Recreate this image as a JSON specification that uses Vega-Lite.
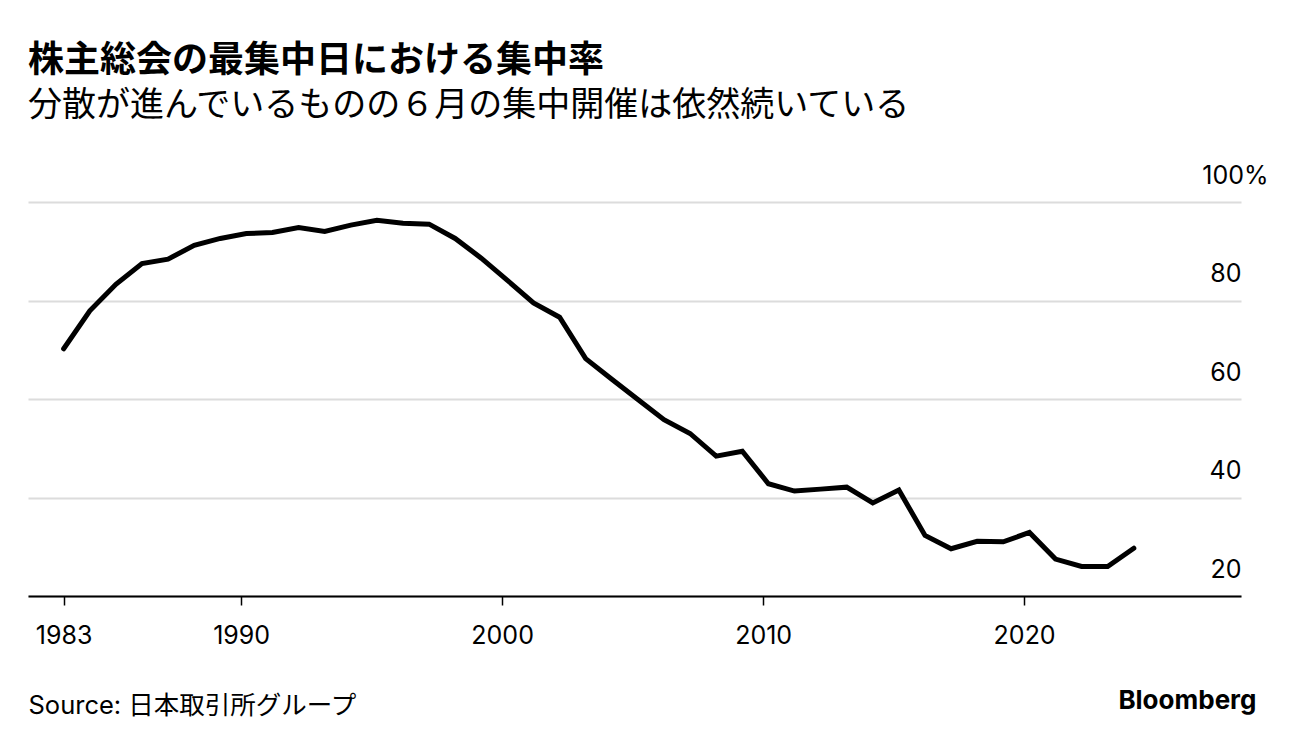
{
  "$schema": "https://vega.github.io/schema/vega-lite/v6.json",
  "width": 1213,
  "height": 394,
  "padding": {"left": 28, "top": 43, "right": 0, "bottom": 0},
  "autosize": {"type": "pad"},
  "background": "white",
  "title": {
    "text": "株主総会の最集中日における集中率",
    "subtitle": "分散が進んでいるものの６月の集中開催は依然続いている",
    "anchor": "start",
    "frame": "group",
    "font": "Noto Sans CJK JP",
    "fontSize": 36,
    "fontWeight": "bold",
    "color": "#000000",
    "subtitleFont": "Noto Sans CJK JP",
    "subtitleFontSize": 34,
    "subtitleFontWeight": "normal",
    "subtitleColor": "#000000",
    "subtitlePadding": 9,
    "offset": 39
  },
  "config": {
    "view": {"stroke": null},
    "axis": {"labelFont": "Inter", "labelColor": "#000000", "titleColor": "#000000"}
  },
  "data": {
    "values": [
      {"date": "1983-03-15T00:00", "rate": 70.2},
      {"date": "1984-03-15T00:00", "rate": 77.9},
      {"date": "1985-03-15T00:00", "rate": 83.3},
      {"date": "1986-03-15T00:00", "rate": 87.5},
      {"date": "1987-03-15T00:00", "rate": 88.4},
      {"date": "1988-03-15T00:00", "rate": 91.2},
      {"date": "1989-03-15T00:00", "rate": 92.6},
      {"date": "1990-03-15T00:00", "rate": 93.6},
      {"date": "1991-03-15T00:00", "rate": 93.8},
      {"date": "1992-03-15T00:00", "rate": 94.8},
      {"date": "1993-03-15T00:00", "rate": 94.0},
      {"date": "1994-03-15T00:00", "rate": 95.3},
      {"date": "1995-03-15T00:00", "rate": 96.3},
      {"date": "1996-03-15T00:00", "rate": 95.7},
      {"date": "1997-03-15T00:00", "rate": 95.5},
      {"date": "1998-03-15T00:00", "rate": 92.6},
      {"date": "1999-03-15T00:00", "rate": 88.6},
      {"date": "2000-03-15T00:00", "rate": 84.1},
      {"date": "2001-03-15T00:00", "rate": 79.5},
      {"date": "2002-03-15T00:00", "rate": 76.6},
      {"date": "2003-03-15T00:00", "rate": 68.2},
      {"date": "2004-03-15T00:00", "rate": 64.0},
      {"date": "2005-03-15T00:00", "rate": 59.9},
      {"date": "2006-03-15T00:00", "rate": 55.8},
      {"date": "2007-03-15T00:00", "rate": 53.0},
      {"date": "2008-03-15T00:00", "rate": 48.4},
      {"date": "2009-03-15T00:00", "rate": 49.4},
      {"date": "2010-03-15T00:00", "rate": 42.8},
      {"date": "2011-03-15T00:00", "rate": 41.3},
      {"date": "2012-03-15T00:00", "rate": 41.7},
      {"date": "2013-03-15T00:00", "rate": 42.1},
      {"date": "2014-03-15T00:00", "rate": 38.9},
      {"date": "2015-03-15T00:00", "rate": 41.5},
      {"date": "2016-03-15T00:00", "rate": 32.3},
      {"date": "2017-03-15T00:00", "rate": 29.6},
      {"date": "2018-03-15T00:00", "rate": 31.1},
      {"date": "2019-03-15T00:00", "rate": 31.0},
      {"date": "2020-03-15T00:00", "rate": 32.9},
      {"date": "2021-03-15T00:00", "rate": 27.5},
      {"date": "2022-03-15T00:00", "rate": 26.0},
      {"date": "2023-03-15T00:00", "rate": 26.0},
      {"date": "2024-03-15T00:00", "rate": 29.7}
    ]
  },
  "mark": {"type": "line", "color": "#000000", "strokeWidth": 5, "strokeCap": "round"},
  "encoding": {
    "x": {
      "field": "date",
      "type": "temporal",
      "scale": {
        "domain": [
          {"year": 1981, "month": 11, "date": 1},
          {"year": 2028, "month": 4, "date": 23}
        ]
      },
      "axis": {
        "values": [
          {"year": 1983, "month": 3, "date": 15},
          {"year": 1990, "month": 1, "date": 1},
          {"year": 2000, "month": 1, "date": 1},
          {"year": 2010, "month": 1, "date": 1},
          {"year": 2020, "month": 1, "date": 1}
        ],
        "format": "%Y",
        "grid": false,
        "domain": true,
        "domainColor": "#000000",
        "domainWidth": 2,
        "ticks": true,
        "tickColor": "#000000",
        "tickWidth": 1.5,
        "tickSize": 9,
        "labelFontSize": 25,
        "labelPadding": 18,
        "labelFlush": false,
        "labelOverlap": false,
        "title": "Source: 日本取引所グループ",
        "titleFont": "Inter, Noto Sans CJK JP",
        "titleFontSize": 25.5,
        "titleFontWeight": "normal",
        "titleAlign": "left",
        "titleAnchor": "start",
        "titleBaseline": "alphabetic",
        "titleX": 0,
        "titleY": 117
      }
    },
    "y": {
      "field": "rate",
      "type": "quantitative",
      "scale": {"domain": [20, 100], "nice": false, "zero": false},
      "axis": {
        "orient": "right",
        "values": [20, 40, 60, 80, 100],
        "labelExpr": "datum.value == 100 ? '100%' : datum.label",
        "grid": true,
        "gridColor": "#dcdcdc",
        "gridWidth": 2,
        "domain": false,
        "ticks": false,
        "labelFontSize": 25,
        "labelAlign": "right",
        "labelBaseline": "alphabetic",
        "labelOffset": -19,
        "labelPadding": {"condition": {"test": "datum.value == 100", "value": 27}, "value": 0},
        "title": "Bloomberg",
        "titleFont": "Inter",
        "titleFontSize": 26,
        "titleFontWeight": "bold",
        "titleAngle": 0,
        "titleAlign": "right",
        "titleBaseline": "alphabetic",
        "titleX": 15,
        "titleY": 506
      }
    }
  }
}
